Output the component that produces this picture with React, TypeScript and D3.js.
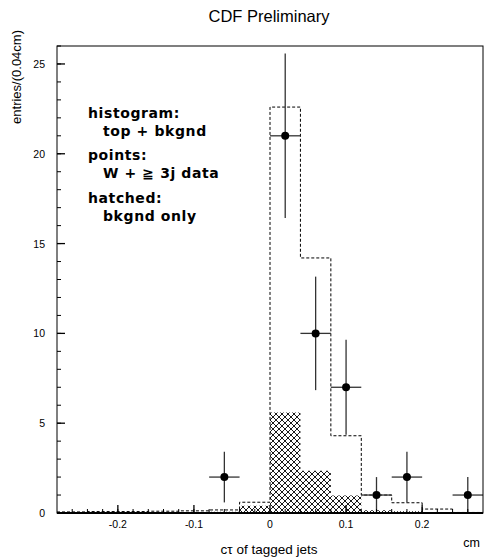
import React from "react";
import * as d3 from "d3";

const binEdgesStart = -0.28;
const binWidth = 0.04;
const totalHist = [0.06, 0.08, 0.08, 0.1, 0.12, 0.17, 0.6, 22.6, 14.2, 4.3, 1.0, 0.57, 0.22, 0.03];
const bkgHist = [0.02, 0.03, 0.03, 0.04, 0.05, 0.07, 0.4, 5.6, 2.35, 0.97, 0.15, 0.1, 0.06, 0.02];
const dataX = [-0.06, 0.02, 0.06, 0.1, 0.14, 0.18, 0.26];
const dataY = [2, 21, 10, 7, 1, 2, 1];
const dataErr = [1.41, 4.58, 3.16, 2.65, 1.0, 1.41, 1.0];
const xMajorTicks = [-0.2, -0.1, 0, 0.1, 0.2];
const xTickLabels = ["-0.2", "-0.1", "0", "0.1", "0.2"];
const yMajorTicks = [0, 5, 10, 15, 20, 25];
const legendLines = [
  { text: "histogram:", indent: 0 },
  { text: "top + bkgnd", indent: 1 },
  { text: "points:", indent: 0 },
  { text: "W + \u2267 3j data", indent: 1 },
  { text: "hatched:", indent: 0 },
  { text: "bkgnd only", indent: 1 },
];

const W = 485;
const H = 557;
const L = 57, R = 483, T = 46, B = 513;

export default function App() {
  const x = d3.scaleLinear().domain([-0.28, 0.28]).range([L, R]);
  const y = d3.scaleLinear().domain([0, 26]).range([B, T]);

  const edges = totalHist.map((_, i) => binEdgesStart + i * binWidth);
  const stepPts: [number, number][] = totalHist.map((v, i) => [edges[i], v]);
  stepPts.push([binEdgesStart + totalHist.length * binWidth, totalHist[totalHist.length - 1]]);
  const stepLine = d3
    .line<[number, number]>()
    .x((d) => x(d[0]))
    .y((d) => y(d[1]))
    .curve(d3.curveStepAfter);

  const bkgPts: [number, number][] = bkgHist.map((v, i) => [edges[i], v]);
  bkgPts.push([binEdgesStart + bkgHist.length * binWidth, bkgHist[bkgHist.length - 1]]);
  const bkgArea = d3
    .area<[number, number]>()
    .x((d) => x(d[0]))
    .y0(y(0))
    .y1((d) => y(d[1]))
    .curve(d3.curveStepAfter);

  const xMinor = d3.range(-13, 14).map((i) => i * 0.02);
  const yMinor = d3.range(0, 27);

  const sans = "'Liberation Sans', Arial, Helvetica, sans-serif";
  const legendY = [118, 136, 160, 178, 203, 221];

  return (
    <svg
      width={W}
      height={H}
      viewBox={`0 0 ${W} ${H}`}
      style={{ position: "absolute", left: 0, top: 0, background: "#fff" }}
    >
      <defs>
        <pattern id="hatch" patternUnits="userSpaceOnUse" width={6} height={6}>
          <path d="M0,0 L6,6 M6,0 L0,6 M-1,5 L1,7 M5,-1 L7,1 M-1,1 L1,-1 M5,7 L7,5" stroke="#000" strokeWidth={0.9} />
        </pattern>
        <clipPath id="plotclip">
          <rect x={L} y={T} width={R - L} height={B - T} />
        </clipPath>
      </defs>
      <rect x={0} y={0} width={W} height={H} fill="#fff" />

      <text x={269} y={22} textAnchor="middle" fontFamily={sans} fontSize={16.5} fill="#000">
        CDF Preliminary
      </text>

      <g clipPath="url(#plotclip)">
        <path d={bkgArea(bkgPts) || ""} fill="url(#hatch)" stroke="none" />
        <path d={stepLine(stepPts) || ""} fill="none" stroke="#000" strokeWidth={1} strokeDasharray="3,2" />
        {dataX.map((dx, i) => (
          <g key={i}>
            <line x1={x(dx - binWidth / 2)} x2={x(dx + binWidth / 2)} y1={y(dataY[i])} y2={y(dataY[i])} stroke="#333" strokeWidth={1.3} />
            <line x1={x(dx)} x2={x(dx)} y1={y(dataY[i] - dataErr[i])} y2={y(dataY[i] + dataErr[i])} stroke="#333" strokeWidth={1.3} />
            <circle cx={x(dx)} cy={y(dataY[i])} r={4} fill="#000" />
          </g>
        ))}
      </g>

      {/* frame */}
      <rect x={L} y={T} width={R - L} height={B - T} fill="none" stroke="#000" strokeWidth={1} />
      <line x1={L} x2={R} y1={B} y2={B} stroke="#000" strokeWidth={1.8} />

      {/* x ticks */}
      {xMinor.map((t, i) => (
        <line key={"xm" + i} x1={x(t)} x2={x(t)} y1={B} y2={B - 4} stroke="#000" strokeWidth={1} />
      ))}
      {xMajorTicks.map((t, i) => (
        <line key={"xM" + i} x1={x(t)} x2={x(t)} y1={B} y2={B - 8} stroke="#000" strokeWidth={1.3} />
      ))}
      {xMajorTicks.map((t, i) => (
        <text key={"xl" + i} x={x(t)} y={528} textAnchor="middle" fontFamily={sans} fontSize={10.5} fill="#000">
          {xTickLabels[i]}
        </text>
      ))}

      {/* y ticks */}
      {yMinor.map((t, i) => (
        <line key={"ym" + i} x1={L} x2={L + 4} y1={y(t)} y2={y(t)} stroke="#000" strokeWidth={1} />
      ))}
      {yMajorTicks.map((t, i) => (
        <line key={"yM" + i} x1={L} x2={L + 8} y1={y(t)} y2={y(t)} stroke="#000" strokeWidth={1.3} />
      ))}
      {yMajorTicks.map((t, i) => (
        <text key={"yl" + i} x={45} y={y(t) + 4} textAnchor="end" fontFamily={sans} fontSize={10.5} fill="#000">
          {t}
        </text>
      ))}

      {/* axis titles */}
      <text x={269} y={554} textAnchor="middle" fontFamily={sans} fontSize={13.5} fill="#000">
        c{"\u03C4"} of tagged jets
      </text>
      <text x={480} y={547} textAnchor="end" fontFamily={sans} fontSize={12.5} fill="#000">
        cm
      </text>
      <text
        transform={`translate(21,30) rotate(-90)`}
        textAnchor="end"
        fontFamily={sans}
        fontSize={13}
        fill="#000"
      >
        entries/(0.04cm)
      </text>

      {/* legend */}
      {legendLines.map((l, i) => (
        <text
          key={"lg" + i}
          x={88 + l.indent * 15}
          y={legendY[i]}
          fontFamily="'DejaVu Sans', sans-serif"
          fontWeight="bold"
          fontSize={14}
          letterSpacing={0.6}
          fill="#000"
        >
          {l.text}
        </text>
      ))}
    </svg>
  );
}
